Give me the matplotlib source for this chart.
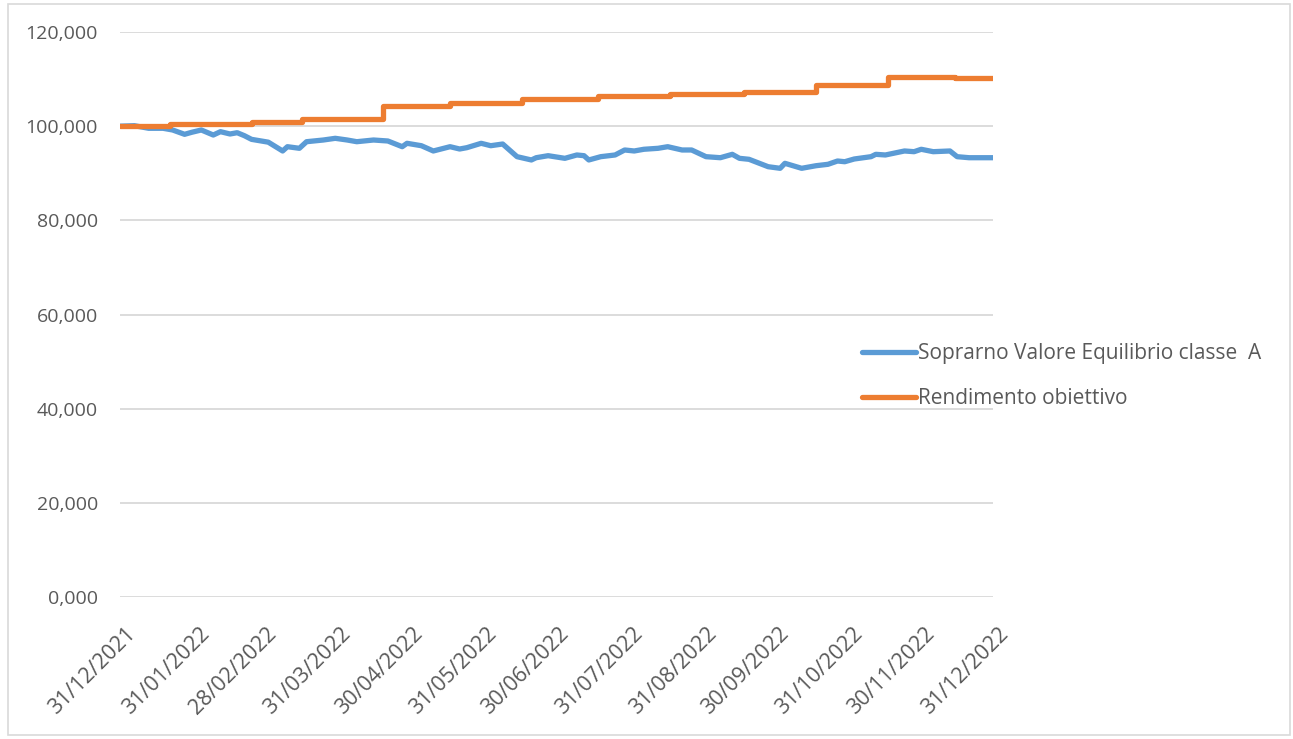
import numpy as np
import pandas as pd
import matplotlib
matplotlib.use('Agg')
import matplotlib.pyplot as plt
import matplotlib.dates as mdates
import matplotlib.transforms as mtransforms
from matplotlib.patches import Rectangle

plt.rcParams['font.family'] = ['Open Sans', 'DejaVu Sans']
plt.rcParams['font.size'] = 14

#### Data ####
blue_dates = ['2021-12-31', '2022-01-06', '2022-01-12', '2022-01-18', '2022-01-22', '2022-01-27',
              '2022-01-30', '2022-02-03', '2022-02-08', '2022-02-11', '2022-02-15', '2022-02-18',
              '2022-02-21', '2022-02-24', '2022-03-03', '2022-03-09', '2022-03-11', '2022-03-16',
              '2022-03-19', '2022-03-26', '2022-03-31', '2022-04-05', '2022-04-09', '2022-04-16',
              '2022-04-22', '2022-04-28', '2022-04-30', '2022-05-06', '2022-05-11', '2022-05-18',
              '2022-05-22', '2022-05-25', '2022-05-31', '2022-06-04', '2022-06-09', '2022-06-15',
              '2022-06-21', '2022-06-23', '2022-06-28', '2022-07-05', '2022-07-10', '2022-07-13',
              '2022-07-15', '2022-07-20', '2022-07-26', '2022-07-30', '2022-08-03', '2022-08-07',
              '2022-08-13', '2022-08-17', '2022-08-23', '2022-08-27', '2022-09-02', '2022-09-08',
              '2022-09-13', '2022-09-16', '2022-09-20', '2022-09-28', '2022-10-03', '2022-10-05',
              '2022-10-12', '2022-10-18', '2022-10-23', '2022-10-27', '2022-10-30', '2022-11-03',
              '2022-11-10', '2022-11-12', '2022-11-16', '2022-11-24', '2022-11-28', '2022-12-01',
              '2022-12-06', '2022-12-13', '2022-12-16', '2022-12-21', '2022-12-31']
blue_values = [100.00, 100.10, 99.55, 99.55, 99.19, 98.27,
               98.70, 99.19, 98.12, 98.83, 98.34, 98.61,
               97.98, 97.20, 96.60, 94.73, 95.64, 95.30,
               96.70, 97.06, 97.42, 97.06, 96.70, 97.06,
               96.85, 95.64, 96.36, 95.85, 94.73, 95.64,
               95.15, 95.43, 96.36, 95.85, 96.21, 93.52,
               92.82, 93.30, 93.73, 93.17, 93.88, 93.73,
               92.82, 93.52, 93.88, 94.94, 94.73, 95.09,
               95.30, 95.64, 94.94, 94.94, 93.52, 93.30,
               94.02, 93.17, 92.96, 91.39, 91.05, 92.11,
               91.05, 91.60, 91.90, 92.60, 92.45, 93.03,
               93.52, 94.02, 93.88, 94.73, 94.58, 95.09,
               94.58, 94.73, 93.52, 93.30, 93.30]

orange_dates = ['2021-12-31', '2022-01-21', '2022-02-24', '2022-03-17', '2022-04-20', '2022-05-18',
                '2022-06-17', '2022-07-19', '2022-08-18', '2022-09-18', '2022-10-18', '2022-11-17',
                '2022-12-15', '2022-12-31']
orange_values = [100.0, 100.4, 100.9, 101.6, 104.3, 105.0,
                 105.8, 106.5, 106.8, 107.3, 108.7, 110.4,
                 110.2, 110.2]

tick_dates = ['2021-12-31', '2022-01-31', '2022-02-28', '2022-03-31', '2022-04-30', '2022-05-31',
              '2022-06-30', '2022-07-31', '2022-08-31', '2022-09-30', '2022-10-31', '2022-11-30',
              '2022-12-31']
y_ticks = [0, 20, 40, 60, 80, 100, 120]

label_blue = 'Soprarno Valore Equilibrio classe  A'
label_orange = 'Rendimento obiettivo'

#### Figure ####
fig = plt.figure(figsize=(12.93, 7.39), dpi=100)
ax = fig.add_axes([120/1293, 1-597/739, 873/1293, (597-32)/739])

c_blue = '#5B9BD5'
c_orange = '#ED7D31'
ax.plot(pd.to_datetime(blue_dates), blue_values, color=c_blue, lw=3.8,
        solid_capstyle='round', solid_joinstyle='round', label=label_blue, zorder=3)
ax.plot(pd.to_datetime(orange_dates), orange_values, color=c_orange, lw=3.8,
        drawstyle='steps-post', solid_capstyle='round', solid_joinstyle='round',
        label=label_orange, zorder=3)

ax.set_ylim(0, 120)
ax.set_xlim(pd.Timestamp(tick_dates[0]), pd.Timestamp(tick_dates[-1]))
ax.set_yticks(y_ticks)
ax.set_yticklabels([f'{v:.3f}'.replace('.', ',') for v in y_ticks])
ax.set_xticks(pd.to_datetime(tick_dates))
ax.xaxis.set_major_formatter(mdates.DateFormatter('%d/%m/%Y'))

ax.grid(axis='y', color='#d9d9d9', lw=1.3)
ax.set_axisbelow(True)
for s in ax.spines.values():
    s.set_visible(False)
ax.tick_params(axis='both', length=0, colors='#595959')
ax.tick_params(axis='y', pad=16, labelsize=14)
ax.tick_params(axis='x', pad=19, labelsize=15.5)
offset = mtransforms.ScaledTranslation(5/100, 0, fig.dpi_scale_trans)
for lab in ax.get_xticklabels():
    lab.set_rotation(45)
    lab.set_ha('right')
    lab.set_va('top')
    lab.set_rotation_mode('anchor')
    lab.set_transform(lab.get_transform() + offset)

leg = fig.legend(loc='center left', bbox_to_anchor=(862/1293, 1-376/739), frameon=False,
                 borderpad=0, borderaxespad=0, handlelength=2.6, handletextpad=0.1,
                 labelspacing=1.15, fontsize=15)
for t in leg.get_texts():
    t.set_color('#595959')

# chart border like the spreadsheet frame
fig.patches.append(Rectangle((8/1293, 4/739), 1282/1293, 731/739, transform=fig.transFigure,
                             fill=False, edgecolor='#d9d9d9', lw=1.2))

fig.savefig('out.png', dpi=100)
